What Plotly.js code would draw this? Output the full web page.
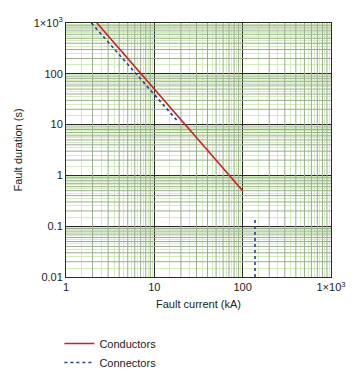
<!DOCTYPE html>
<html>
<head>
<meta charset="utf-8">
<script src="https://cdn.plot.ly/plotly-3.0.1.min.js"></script>
<style>html,body{margin:0;padding:0;background:#fff;}#chart{width:358px;height:373px;}</style>
</head>
<body>
<div id="chart"></div>
<script>
// Data
const conductorsX = [2.24, 100];
const conductorsY = [1000, 0.5];
const connectorsX = [1.94, 17.9, null, 138, 138];
const connectorsY = [1000, 12.3, null, 0.01, 0.138];

const majorTickVals = [1, 10, 100, 1000];
const xTickText = ['1', '10', '100', '1×10<sup>3</sup>'];
const yMajorVals = [0.01, 0.1, 1, 10, 100, 1000];
const yTickText = ['0.01', '0.1', '1', '10', '100', '1×10<sup>3</sup>'];
const minorMultipliers = [2, 3, 4, 5, 6, 7, 8, 9];
const fineMultipliers = [1.5, 2.5, 3.5, 4.5, 5.5, 6.5, 7.5, 8.5, 9.5];
const xDecades = [1, 10, 100];
const yDecades = [0.01, 0.1, 1, 10, 100];
const xLimits = [1, 1000];
const yLimits = [0.01, 1000];

function expand(decades, mults) {
  const out = [];
  decades.forEach(d => mults.forEach(m => out.push(d * m)));
  return out;
}

// dark secondary grid lines (at 2..9 of each decade), drawn through the axes' own scales
const gx = [], gy = [];
expand(xDecades, minorMultipliers).forEach(v => { gx.push(v, v, null); gy.push(yLimits[0], yLimits[1], null); });
expand(yDecades, minorMultipliers).forEach(v => { gx.push(xLimits[0], xLimits[1], null); gy.push(v, v, null); });

const font = {family: 'Liberation Sans, Arial, sans-serif', size: 11, color: '#222'};

const traces = [
  {x: gx, y: gy, mode: 'lines', type: 'scatter', connectgaps: false, showlegend: false,
   hoverinfo: 'skip', line: {color: '#98ae8d', width: 1}},
  {x: conductorsX, y: conductorsY, name: 'Conductors', mode: 'lines', type: 'scatter',
   line: {color: '#cc2020', width: 1.6}},
  {x: connectorsX, y: connectorsY, name: 'Connectors', mode: 'lines', type: 'scatter',
   connectgaps: false, line: {color: '#2a3f8f', width: 1.6, dash: 'dot'}}
];

const layout = {
  width: 358, height: 373,
  margin: {l: 66, r: 27, t: 23, b: 96, autoexpand: false},
  paper_bgcolor: '#fff', plot_bgcolor: '#fff',
  font: font,
  showlegend: true,
  legend: {x: -0.025, y: -0.205, xanchor: 'left', yanchor: 'top',
           orientation: 'v', font: font, itemwidth: 30, bgcolor: 'rgba(0,0,0,0)'},
  xaxis: {type: 'log', range: [0, 3], tickmode: 'array', tickvals: majorTickVals, ticktext: xTickText,
          ticks: '', showgrid: true, gridcolor: '#2a2a2a', gridwidth: 1, automargin: false,
          minor: {tickmode: 'array', tickvals: expand(xDecades, fineMultipliers), showgrid: true,
                  gridcolor: '#d2ecbd', gridwidth: 1, ticks: ''},
          showline: true, linecolor: '#2a2a2a', mirror: true, zeroline: false,
          title: {text: 'Fault current (kA)', font: font, standoff: 8}, tickfont: font},
  yaxis: {type: 'log', range: [-2, 3], tickmode: 'array', tickvals: yMajorVals, ticktext: yTickText,
          ticks: '', showgrid: true, gridcolor: '#2a2a2a', gridwidth: 1, automargin: false,
          minor: {tickmode: 'array', tickvals: expand(yDecades, fineMultipliers), showgrid: true,
                  gridcolor: '#d2ecbd', gridwidth: 1, ticks: ''},
          showline: true, linecolor: '#2a2a2a', mirror: true, zeroline: false,
          title: {text: 'Fault duration (s)', font: font, standoff: 8}, tickfont: font}
};

Plotly.newPlot('chart', traces, layout, {displayModeBar: false, staticPlot: true});
</script>
</body>
</html>
